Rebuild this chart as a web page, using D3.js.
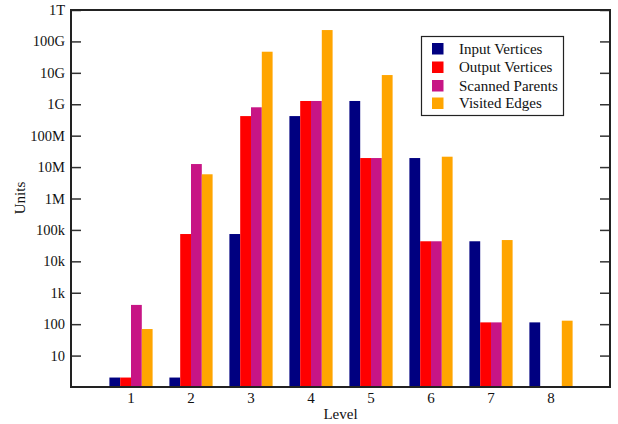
<!DOCTYPE html>
<html>
<head>
<meta charset="utf-8">
<script src="https://cdn.jsdelivr.net/npm/d3@7"></script>
<style>
  html, body { margin: 0; padding: 0; background: #fff; }
  text { font-family: "Liberation Serif", "Times New Roman", serif; fill: #111; }
</style>
</head>
<body>
<svg id="chart" width="618" height="424"></svg>
<script>
// ---- data ----
const levels = ["1", "2", "3", "4", "5", "6", "7", "8"];
const seriesNames = ["Input Vertices", "Output Vertices", "Scanned Parents", "Visited Edges"];
const inputVertices   = [2, 2, 7.4e4, 4.2e8, 1.27e9, 1.94e7, 4.35e4, 114];
const outputVertices  = [2, 7.4e4, 4.2e8, 1.27e9, 1.94e7, 4.35e4, 114, null];
const scannedParents  = [410, 1.25e7, 8.0e8, 1.27e9, 1.94e7, 4.35e4, 114, null];
const visitedEdges    = [70, 5.9e6, 4.7e10, 2.3e11, 8.5e9, 2.14e7, 4.76e4, 129];
const seriesColors = ["#000080", "#ff0000", "#c71585", "#ffa500"];
const yTickValues = [10, 100, 1e3, 1e4, 1e5, 1e6, 1e7, 1e8, 1e9, 1e10, 1e11, 1e12];
const yTickLabels = ["10", "100", "1k", "10k", "100k", "1M", "10M", "100M", "1G", "10G", "100G", "1T"];

const seriesValues = [inputVertices, outputVertices, scannedParents, visitedEdges];

// ---- layout ----
const svg = d3.select("#chart");
const mLeft = 71, mRight = 610, mTop = 10, mBottom = 387;

const x0 = d3.scaleBand().domain(levels).range([mLeft, mRight + 1])
  .paddingInner(0.28).paddingOuter(0.64);
const x1 = d3.scaleBand().domain(seriesNames).range([0, x0.bandwidth()]);
const y = d3.scaleLog().domain([1, 1e12]).range([mBottom, mTop]);

// bars
const groups = svg.append("g").selectAll("g")
  .data(levels).join("g")
  .attr("transform", d => `translate(${x0(d)},0)`);

groups.selectAll("rect")
  .data((lvl, i) => seriesNames.map((s, j) => ({ s, j, v: seriesValues[j][i] })).filter(d => d.v != null && d.v > 0))
  .join("rect")
  .attr("x", d => x1(d.s))
  .attr("width", x1.bandwidth())
  .attr("y", d => y(d.v))
  .attr("height", d => mBottom - y(d.v))
  .attr("fill", d => seriesColors[d.j]);

// left axis with inward ticks
const fmt = d => yTickLabels[yTickValues.indexOf(d)];
const yAxisL = svg.append("g").attr("transform", `translate(${mLeft},0)`)
  .call(d3.axisRight(y).tickValues(yTickValues).tickSize(10).tickFormat(""));
yAxisL.select(".domain").remove();
yAxisL.selectAll(".tick line").attr("stroke", "#333").attr("stroke-width", 1.5);

// left tick labels
svg.append("g").selectAll("text")
  .data(yTickValues).join("text")
  .attr("x", mLeft - 6)
  .attr("y", d => y(d))
  .attr("dy", "0.35em")
  .attr("text-anchor", "end")
  .style("font-size", "14.5px")
  .text(fmt);

// right axis inward ticks
const yAxisR = svg.append("g").attr("transform", `translate(${mRight},0)`)
  .call(d3.axisLeft(y).tickValues(yTickValues).tickSize(10).tickFormat(""));
yAxisR.select(".domain").remove();
yAxisR.selectAll(".tick line").attr("stroke", "#333").attr("stroke-width", 1.5);

// frame
svg.append("rect")
  .attr("x", mLeft).attr("y", mTop)
  .attr("width", mRight - mLeft).attr("height", mBottom - mTop)
  .attr("fill", "none").attr("stroke", "#222").attr("stroke-width", 2);

// x labels
svg.append("g").selectAll("text")
  .data(levels).join("text")
  .attr("x", d => x0(d) + x0.bandwidth() / 2)
  .attr("y", 403)
  .attr("text-anchor", "middle")
  .style("font-size", "15px")
  .text(d => d);

// axis titles
svg.append("text")
  .attr("x", (mLeft + mRight) / 2).attr("y", 419)
  .attr("text-anchor", "middle")
  .style("font-size", "15px")
  .text("Level");

svg.append("text")
  .attr("transform", "translate(25,198) rotate(-90)")
  .attr("text-anchor", "middle")
  .style("font-size", "15px")
  .text("Units");

// legend
const lg = svg.append("g");
lg.append("rect")
  .attr("x", 421.5).attr("y", 36.5)
  .attr("width", 142).attr("height", 79)
  .attr("fill", "#fff").attr("stroke", "#222").attr("stroke-width", 1.2);
const rowY = [48.5, 67, 85.5, 103];
seriesNames.forEach((name, i) => {
  lg.append("rect")
    .attr("x", 432).attr("y", rowY[i] - 5.5)
    .attr("width", 11.5).attr("height", 11.5)
    .attr("fill", seriesColors[i]);
  lg.append("text")
    .attr("x", 459).attr("y", rowY[i])
    .attr("dy", "0.35em")
    .style("font-size", "15px")
    .text(name);
});
</script>
</body>
</html>
